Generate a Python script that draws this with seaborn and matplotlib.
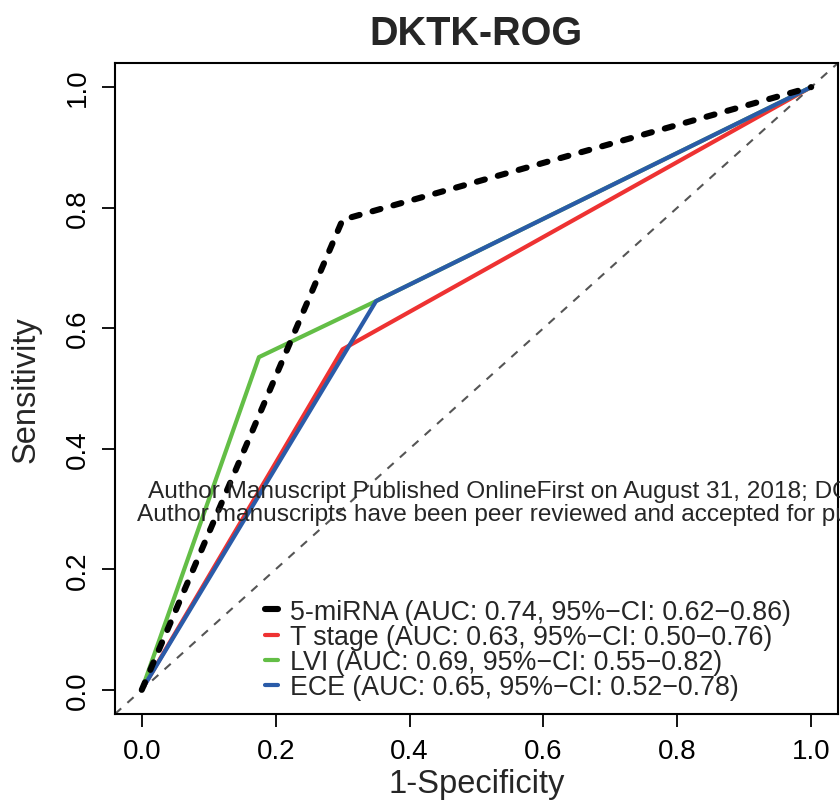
import pandas as pd
import matplotlib
matplotlib.use('Agg')
import matplotlib.pyplot as plt
import seaborn as sns
from matplotlib.lines import Line2D

# ROC curve points (1-Specificity, Sensitivity)
mirna_fpr = [0.0, 0.30, 1.0]
mirna_tpr = [0.0, 0.78, 1.0]
tstage_fpr = [0.0, 0.30, 1.0]
tstage_tpr = [0.0, 0.565, 1.0]
lvi_fpr = [0.0, 0.175, 0.35, 1.0]
lvi_tpr = [0.0, 0.552, 0.645, 1.0]
ece_fpr = [0.0, 0.35, 1.0]
ece_tpr = [0.0, 0.645, 1.0]

labels = [
    '5-miRNA (AUC: 0.74, 95%\u2212CI: 0.62\u22120.86)',
    'T stage (AUC: 0.63, 95%\u2212CI: 0.50\u22120.76)',
    'LVI (AUC: 0.69, 95%\u2212CI: 0.55\u22120.82)',
    'ECE (AUC: 0.65, 95%\u2212CI: 0.52\u22120.78)',
]
colors = ['black', '#EE3232', '#63BE46', '#2A5BA8']
ticks = [0.0, 0.2, 0.4, 0.6, 0.8, 1.0]

sns.set_style('white')
plt.rcParams['font.family'] = ['Liberation Sans', 'DejaVu Sans']

fig = plt.figure(figsize=(8.4, 8.12), dpi=100)
ax = fig.add_axes([0.1369, 0.1195, 0.8607, 0.8017])

ax.axline((0, 0), (1, 1), color='#555555', lw=1.5, ls=(0, (4, 4)), zorder=1)

curves = [
    (tstage_fpr, tstage_tpr, colors[1]),
    (lvi_fpr, lvi_tpr, colors[2]),
    (ece_fpr, ece_tpr, colors[3]),
]
for fpr, tpr, c in curves:
    df = pd.DataFrame({'fpr': fpr, 'tpr': tpr})
    sns.lineplot(data=df, x='fpr', y='tpr', ax=ax, color=c, lw=3.0,
                 sort=False, estimator=None, zorder=2)

df = pd.DataFrame({'fpr': mirna_fpr, 'tpr': mirna_tpr})
sns.lineplot(data=df, x='fpr', y='tpr', ax=ax, color=colors[0], lw=4.4,
             sort=False, estimator=None, zorder=3)
ax.lines[-1].set_linestyle((0, (1.35, 2.2)))
ax.lines[-1].set_dash_capstyle('round')

ax.set_xlim(-0.04, 1.04)
ax.set_ylim(-0.04, 1.04)
ax.set_xticks(ticks)
ax.set_yticks(ticks)
ax.set_xticklabels([f'{t:.1f}' for t in ticks])
ax.set_yticklabels([f'{t:.1f}' for t in ticks], rotation=90, va='center')
ax.tick_params(axis='both', direction='out', length=9.4, width=1.3,
               labelsize=20, pad=8, colors='black', bottom=True, left=True)
for s in ax.spines.values():
    s.set_color('black')
    s.set_linewidth(1.5)

ax.set_xlabel('1-Specificity', fontsize=23.5, labelpad=3)
ax.set_ylabel('Sensitivity', fontsize=23.5, labelpad=17)
ax.set_title('DKTK-ROG', fontsize=28.5, fontweight='bold', pad=14)

handles = [
    Line2D([], [], color=colors[0], lw=4.4, solid_capstyle='round'),
    Line2D([], [], color=colors[1], lw=3.0, solid_capstyle='round'),
    Line2D([], [], color=colors[2], lw=3.0, solid_capstyle='round'),
    Line2D([], [], color=colors[3], lw=3.0, solid_capstyle='round'),
]
ax.legend(handles, labels, loc='center left',
          bbox_to_anchor=(265 / 840, 1 - 650.5 / 812),
          bbox_transform=fig.transFigure,
          frameon=False, fontsize=19.3, handlelength=0.5, handletextpad=0.45,
          labelspacing=-0.03, borderpad=0, borderaxespad=0)

# overlaid watermark text
fig.text(148 / 840, 1 - 492 / 812,
         'Author Manuscript Published OnlineFirst on August 31, 2018; DOI: 10.1158/1078-0432.CCR-18-0504',
         fontsize=17.6, ha='left', va='center')
fig.text(137 / 840, 1 - 515 / 812,
         'Author manuscripts have been peer reviewed and accepted for publication but have not yet been edited.',
         fontsize=17.6, ha='left', va='center')

fig.savefig('out.png', dpi=100)
